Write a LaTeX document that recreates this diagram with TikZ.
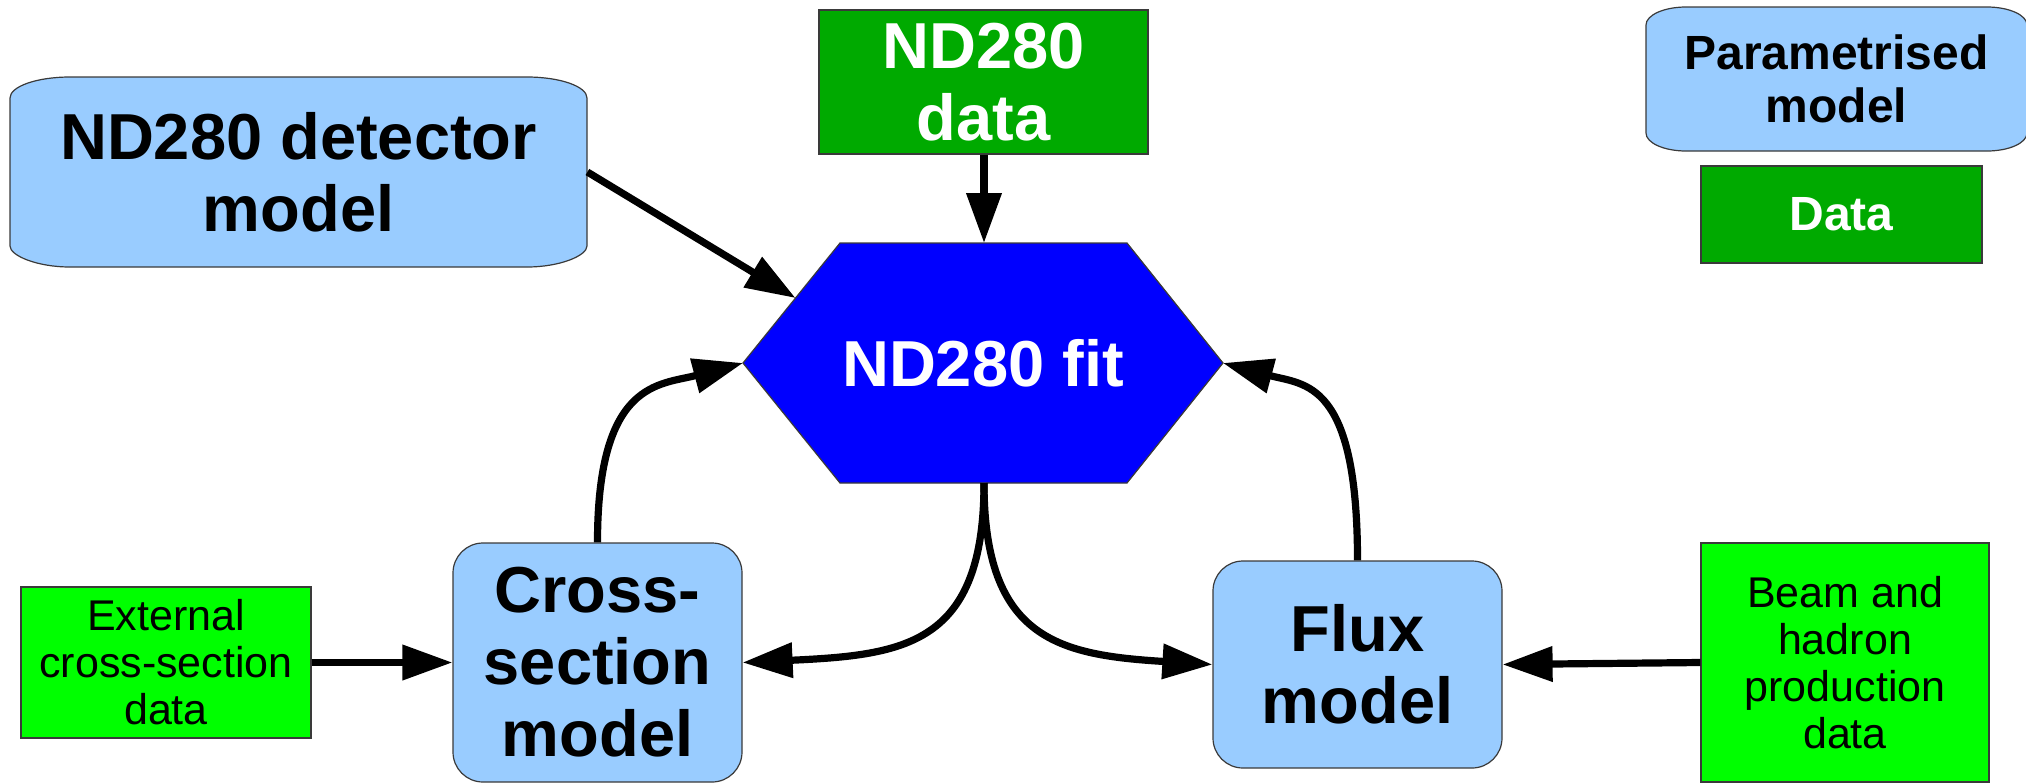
\documentclass[tikz,border=0pt]{standalone}
\usepackage{fontspec}
\setmainfont{Liberation Sans}
\usetikzlibrary{arrows.meta}
\definecolor{modelblue}{HTML}{99CCFF}
\definecolor{datagreen}{HTML}{00AA00}
\definecolor{extgreen}{HTML}{00FF00}
\definecolor{fitblue}{HTML}{0000FF}
\definecolor{edgegray}{HTML}{3A3A3A}

\begin{document}
\begin{tikzpicture}[x=0.5pt,y=-0.5pt,
  outline/.style={draw=edgegray, line width=0.6pt},
  bigtxt/.style={font=\fontsize{32.5}{36}\selectfont\bfseries, align=center, inner sep=0pt},
  legtxt/.style={font=\fontsize{24}{26.5}\selectfont\bfseries, align=center, inner sep=0pt},
  smalltxt/.style={font=\fontsize{21.5}{23.5}\selectfont, align=center, inner sep=0pt},
  modelbox/.style={outline, fill=modelblue, rounded corners=15pt, bigtxt},
  databox/.style={outline, fill=datagreen, text=white, bigtxt},
  extbox/.style={outline, fill=extgreen, smalltxt},
  conn/.style={line width=3.6pt, -{Triangle[length=25pt,width=17pt]}},
]
\useasboundingbox (0,0) rectangle (2026,783);
\clip (0,0) rectangle (2026,783);

% detector model: box with flat elliptical corners
\filldraw[outline, fill=modelblue]
  (70,77) -- (527,77) .. controls (560.1,77) and (587,86.4) .. (587,98)
  -- (587,246) .. controls (587,255.6) and (560.1,267) .. (527,267)
  -- (70,267) .. controls (36.9,267) and (10,255.6) .. (10,246)
  -- (10,98) .. controls (10,86.4) and (36.9,77) .. (70,77) -- cycle;
\node[bigtxt, minimum width=288.5pt, minimum height=95pt] (det) at (298.5,172)
  {ND280 detector\\model};

% legend: parametrised model
\filldraw[outline, fill=modelblue]
  (1686,7) -- (1987,7) .. controls (2009.1,7) and (2027,15.1) .. (2027,25)
  -- (2027,133) .. controls (2027,142.9) and (2009.1,151) .. (1987,151)
  -- (1686,151) .. controls (1663.9,151) and (1646,142.9) .. (1646,133)
  -- (1646,25) .. controls (1646,15.1) and (1663.9,7) .. (1686,7) -- cycle;
\node[legtxt] (param) at (1836.5,79) {Parametrised\\model};

% legend: data
\node[outline, fill=datagreen, text=white, legtxt,
      minimum width=140.5pt, minimum height=48.5pt] (legdata) at (1841.5,214.5) {Data};

% ND280 data
\node[databox, minimum width=164.5pt, minimum height=72pt] (ndata) at (983.5,82)
  {ND280\\data};

% ND280 fit: stretched hexagon
\filldraw[outline, fill=fitblue]
  (840,243) -- (1127,243) -- (1223,363) -- (1127,483) -- (840,483) -- (743,363) -- cycle;
\node[bigtxt, text=white] (fit) at (983,363) {ND280 fit};
\coordinate (fitT) at (984,243);
\coordinate (fitB) at (984,483);
\coordinate (fitL) at (743,363);
\coordinate (fitR) at (1223,363);
\coordinate (fitUL) at (795.5,298);

% model boxes
\node[modelbox, minimum width=144.5pt, minimum height=119.5pt] (xsec) at (597.5,662.5)
  {Cross-\\section\\model};
\node[modelbox, minimum width=144.5pt, minimum height=103.5pt] (flux) at (1357.5,664.5)
  {Flux\\model};

% external data boxes
\node[extbox, minimum width=145pt, minimum height=75.5pt] (ext) at (166,662.5)
  {External\\cross-section\\data};
\node[extbox, minimum width=144pt, minimum height=119.5pt] (beam) at (1845,662.5)
  {Beam and\\hadron\\production\\data};

% connectors
\draw[conn] (det.east) -- (fitUL);
\draw[conn] (ndata.south -| fitT) -- (fitT);
\draw[conn] (xsec.north) .. controls (597.5,380) and (660,385) .. (fitL);
\draw[conn] (flux.north) .. controls (1357.5,380) and (1305,385) .. (fitR);
\draw[conn] (fitB) .. controls (984,645) and (905,655) .. (xsec.east);
\draw[conn] (fitB) .. controls (984,640) and (1060,655) .. (flux.west);
\draw[conn] (ext.east) -- (xsec.west);
\draw[conn] (beam.west) -- (flux.east);
\end{tikzpicture}
\end{document}
